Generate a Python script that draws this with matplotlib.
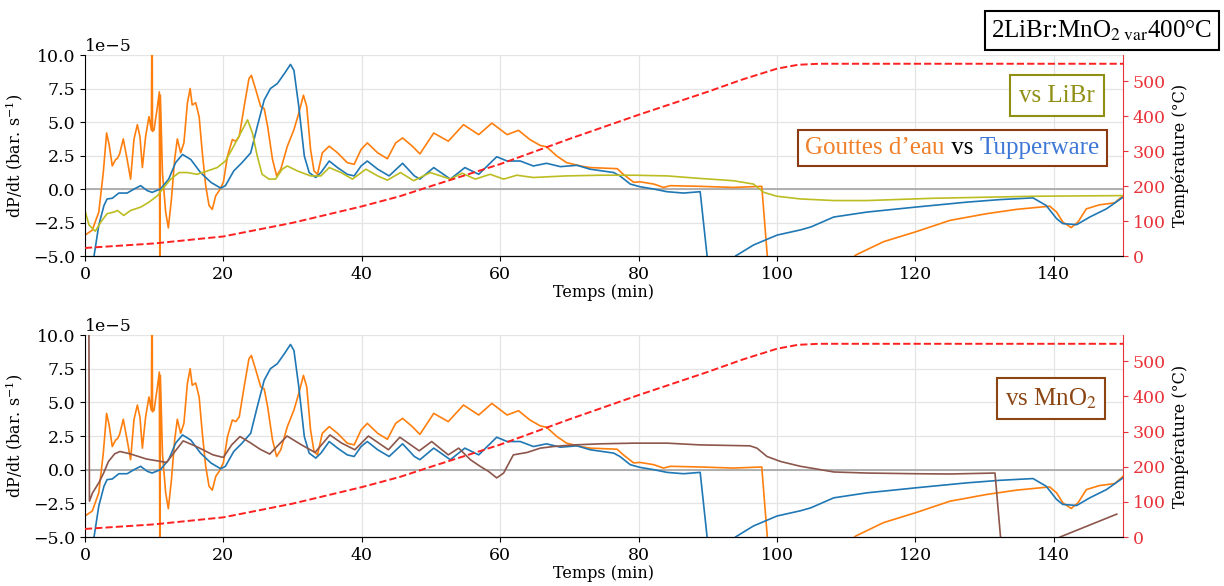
import numpy as np
import matplotlib.pyplot as plt
from matplotlib.offsetbox import TextArea, HPacker, AnchoredOffsetbox

plt.rcParams['font.family'] = ['DejaVu Serif']
plt.rcParams['mathtext.fontset'] = 'dejavuserif'

# valeurs (dP/dt en 1e-5 bar/s, temps en min)
t_eau = [0, 1.06, 2.0, 2.65, 3.13, 3.5, 3.95, 4.43, 4.7, 5.0, 5.54, 6.1, 6.6, 7.08, 7.57, 7.95,
         8.3, 8.77, 9.25, 9.6, 9.7, 9.76, 9.98, 10.46, 10.75, 10.84, 10.9, 11.2, 11.66, 12.05,
         12.5, 12.96, 13.35, 13.83, 14.3, 14.8, 15.2, 15.5, 16.0, 16.5, 16.96, 17.45, 17.93,
         18.4, 18.9, 19.4, 20.0, 20.6, 21.3, 21.8, 22.3, 23.0, 23.7, 24.05, 24.7, 25.4, 25.9,
         26.4, 27.1, 27.7, 28.3, 29.25, 30.2, 30.9, 31.57, 32.05, 32.6, 33.1, 33.6, 34.3, 35.3,
         36.5, 37.9, 38.9, 39.9, 40.8, 42.3, 43.7, 44.9, 45.9, 47.3, 48.4, 50.4, 52.5, 54.7,
         56.9, 58.8, 61.0, 62.65, 64.3, 65.8, 66.7, 68.2, 69.6, 71.6, 73.0, 76.9, 77.8, 79.3,
         80.2, 82.2, 83.6, 84.6, 88.9, 93.7, 97.8, 98.6, 99.5, 105, 111.4, 115.4, 120, 125,
         130.3, 134.6, 139.4, 140.4, 141.3, 142.5, 143.5, 144.7, 146.6, 148.8, 150]
v_eau = [-3.44, -3.07, -1.72, 1.23, 4.18, 3.3, 1.72, 2.2, 2.3, 2.6, 3.74, 2.2, 0.74, 3.7, 4.8, 3.9,
         1.6, 3.93, 5.4, 4.4, 15.0, 4.3, 4.4, 6.1, 7.25, -10.0, 7.0, 1.2, -1.7, -2.9,
         -0.74, 2.2, 3.74, 2.7, 3.44, 6.4, 7.5, 6.27, 6.44, 5.4, 2.7, 0.25, -1.23,
         -1.52, -0.5, -0.12, 0.5, 2.46, 3.69, 3.57, 3.93, 6.15, 8.24, 8.48, 7.38, 6.15, 6.0,
         4.67, 2.21, 0.98, 1.48, 3.2, 4.43, 5.66, 7.0, 6.15, 2.95, 1.35, 1.1, 2.7, 3.2,
         2.7, 1.97, 1.84, 2.95, 3.44, 2.7, 2.26, 3.44, 3.81, 3.2, 2.62, 4.18, 3.57, 4.8,
         4.06, 4.92, 4.06, 4.38, 3.69, 3.25, 3.15, 2.46, 1.97, 1.72, 1.6, 1.52, 1.1, 0.5,
         0.54, 0.37, 0.12, 0.25, 0.2, 0.12, 0.2, -5.0, -11.0, -8.0, -4.92, -3.93, -3.2, -2.34,
         -1.84, -1.52, -1.28, -1.72, -2.46, -2.88, -2.46, -1.48, -1.18, -1.03, -0.5]

t_tup = [0, 1.3, 2.0, 2.75, 3.2, 3.95, 4.9, 6.1, 7.1, 8.05, 9.0, 9.7, 10.9, 12.1, 13.1, 14.1,
         15.3, 16.7, 18.2, 19.6, 20.3, 21.5, 22.7, 23.95, 24.9, 25.9, 26.8, 27.8, 28.8, 29.7,
         30.2, 30.9, 31.7, 32.4, 33.35, 34.1, 35.3, 36.5, 37.9, 38.9, 39.9, 40.8, 42.3, 43.95,
         45.9, 47.6, 48.4, 50.4, 52.8, 54.9, 56.9, 59.5, 61.0, 62.9, 64.8, 66.7, 68.7, 71.1,
         73.0, 76.4, 77.3, 78.8, 80.2, 82.2, 84.1, 86.5, 88.9, 89.9, 91.5, 94.0, 96.6, 100,
         103.4, 104.9, 108.2, 113.0, 120, 127.4, 132.2, 137.0, 138.9, 140.4, 141.3, 143.3,
         145.2, 147.6, 150]
v_tup = [-9.0, -5.04, -2.7, -1.23, -0.74, -0.69, -0.3, -0.3, 0.0, 0.25, -0.12, -0.25, 0.0, 0.74,
         1.97, 2.58, 2.2, 1.23, 0.5, 0.07, 0.25, 1.35, 1.97, 2.7, 4.67, 6.64, 7.5, 7.87, 8.6,
         9.3, 8.85, 6.15, 2.46, 1.23, 0.86, 1.23, 2.09, 1.6, 1.1, 0.98, 1.72, 2.09, 1.48,
         0.98, 1.92, 0.98, 0.74, 1.6, 0.74, 1.6, 1.1, 2.41, 2.09, 2.09, 1.72, 1.92, 1.67,
         1.77, 1.48, 1.23, 0.98, 0.37, 0.17, 0.0, -0.2, -0.3, -0.2, -5.0, -8.0, -5.0, -4.18,
         -3.44, -3.05, -2.83, -2.09, -1.72, -1.35, -0.98, -0.79, -0.66, -1.23, -2.21, -2.58,
         -2.66, -2.09, -1.48, -0.61]

t_libr = [0, 0.6, 1.5, 2.3, 3.2, 4.2, 4.7, 5.6, 6.6, 8.05, 9.25, 10.5, 11.4, 12.4, 13.6, 14.8,
          16.2, 17.7, 19.1, 20.3, 21.5, 22.5, 23.5, 24.2, 24.9, 25.6, 26.6, 27.55, 28.5,
          29.25, 30.7, 32.6, 34.1, 35.3, 37.0, 38.65, 40.6, 42.3, 43.7, 45.6, 47.5, 49.9,
          52.8, 54.5, 56.4, 58.55, 60.5, 62.4, 64.8, 69.6, 74.5, 79.3, 84.1, 88.9, 93.7,
          96.6, 98.1, 100, 103.4, 108.2, 113, 122.6, 137, 150]
v_libr = [-1.6, -2.7, -3.15, -2.46, -1.84, -1.72, -1.6, -1.97, -1.6, -1.35, -0.98, -0.49, 0.12,
          0.74, 1.23, 1.23, 1.1, 1.35, 1.6, 2.09, 3.2, 4.18, 5.16, 4.18, 2.46, 1.1, 0.74, 0.74,
          1.48, 1.72, 1.35, 0.98, 0.98, 1.6, 1.23, 0.74, 1.48, 0.98, 0.66, 1.23, 0.62, 1.23,
          0.74, 1.18, 0.74, 1.1, 0.74, 1.03, 0.86, 0.98, 1.03, 1.03, 0.98, 0.79, 0.62, 0.37,
          -0.25, -0.54, -0.74, -0.86, -0.86, -0.69, -0.54, -0.49]

t_mno2 = [0.55, 0.65, 1.1, 2.0, 2.7, 3.4, 4.3, 5.06, 6.5, 8.9, 11.8, 13.0, 14.2, 16.1, 18.5, 20.0,
          21.2, 22.4, 23.9, 25.3, 26.7, 29.2, 31.3, 33.25, 35.4, 37.1, 39.0, 40.96, 43.85,
          45.5, 48.3, 50.1, 52.5, 54.0, 55.7, 57.1, 58.3, 59.5, 60.5, 61.9, 63.9, 65.8, 67.7,
          70.6, 74.5, 79.3, 84.1, 88.9, 96.1, 97.1, 98.55, 100.5, 103.4, 106.3, 108.2, 113,
          120, 125, 131.5, 132.3, 136, 140.9, 149.1]
v_mno2 = [14.0, -2.34, -1.72, -0.98, -0.25, 0.61, 1.18, 1.35, 1.18, 0.79, 0.54, 1.35, 2.14, 1.72,
          1.1, 0.91, 1.84, 2.46, 2.0, 1.52, 1.16, 2.5, 1.84, 1.28, 2.58, 1.97, 1.48, 2.5, 1.48,
          2.41, 1.4, 2.09, 1.1, 1.6, 0.74, 0.25, -0.12, -0.61, -0.25, 1.1, 1.28, 1.6, 1.72,
          1.84, 1.92, 1.97, 1.97, 1.84, 1.77, 1.6, 0.98, 0.61, 0.25, 0.0, -0.17, -0.25,
          -0.3, -0.32, -0.25, -5.0, -7.0, -5.0, -3.3]

t_temp = [0, 10, 20, 30, 40, 45.5, 50, 60, 70, 80, 90, 95, 100, 103, 106, 110, 150]
temp = [23, 36, 56, 95, 142, 171, 200, 263, 335, 404, 470, 505, 536, 547, 550, 550, 550]

c_eau = '#ff7f0e'
c_tup = '#1f77b4'
c_libr = '#bcbd22'
c_mno2 = '#8c564b'
c_temp = '#ff2020'

fig = plt.figure(figsize=(12.24, 5.86), dpi=100)
ax1 = fig.add_axes([0.0694, 0.5631, 0.8481, 0.3430])
ax2 = fig.add_axes([0.0694, 0.0836, 0.8481, 0.3447])


def setup(ax, series):
    ax.grid(True, color='#e4e4e4', lw=0.9)
    ax.set_axisbelow(True)
    ax.axhline(0, color='#aaaaaa', lw=1.3, zorder=1)
    for t, v, c in series:
        ax.plot(t, np.array(v) * 1e-5, color=c, lw=1.2)
    ax.set_xlim(0, 150)
    ax.set_ylim(-5e-5, 10e-5)
    ax.set_yticks(np.arange(-5, 10.1, 2.5) * 1e-5)
    ax.set_xticks(range(0, 141, 20))
    ax.ticklabel_format(axis='y', style='sci', scilimits=(-5, -5))
    ax.set_xlabel('Temps (min)', fontsize=11.5, labelpad=1)
    ax.set_ylabel('dP/dt (bar. s$^{-1}$)', fontsize=11.5, labelpad=6)
    ax.tick_params(labelsize=12.5)
    ax.spines['top'].set_visible(False)
    ax.spines['right'].set_visible(False)
    ax.yaxis.get_offset_text().set_fontsize(12.5)

    axt = ax.twinx()
    axt.plot(t_temp, temp, color=c_temp, ls='--', lw=1.4)
    axt.set_ylim(0, 575)
    axt.set_yticks(range(0, 501, 100))
    axt.tick_params(axis='y', colors='#e8333a', labelsize=12.5)
    axt.spines['right'].set_color('#e8333a')
    axt.spines['top'].set_visible(False)
    axt.spines['left'].set_visible(False)
    axt.set_ylabel('Température (°C)', fontsize=11.5)
    return axt


setup(ax1, [(t_eau, v_eau, c_eau), (t_tup, v_tup, c_tup), (t_libr, v_libr, c_libr)])
setup(ax2, [(t_eau, v_eau, c_eau), (t_tup, v_tup, c_tup), (t_mno2, v_mno2, c_mno2)])


def boite(parts, xy, edge, size=18, pad=0.5):
    areas = [TextArea(s, textprops=dict(color=c, fontsize=size, family='Liberation Serif'))
             for s, c in parts]
    pack = HPacker(children=areas, align='baseline', pad=0, sep=0)
    box = AnchoredOffsetbox(loc='center', child=pack, pad=pad, frameon=True,
                            bbox_to_anchor=xy, bbox_transform=fig.transFigure, borderpad=0)
    box.patch.set_boxstyle('square', pad=0)
    box.patch.set_edgecolor(edge)
    box.patch.set_linewidth(1.5)
    box.zorder = 10
    fig.add_artist(box)


plt.rcParams['mathtext.fontset'] = 'stix'
boite([('2LiBr:MnO$_{2\\ \\mathrm{var}}$400°C', 'black')], (0.9003, 0.948), 'black')
boite([('vs LiBr', '#8f8f14')], (0.8636, 0.837), '#8f8f14', pad=0.65)
boite([('Gouttes d\u2019eau', '#f0802a'), (' vs ', 'black'), ('Tupperware', '#3d78d6')],
      (0.7782, 0.7474), '#8b3a12')
boite([('vs MnO$_2$', '#8b4513')], (0.8587, 0.32), '#8b4513', pad=0.6)

fig.savefig('out.png', dpi=100)
